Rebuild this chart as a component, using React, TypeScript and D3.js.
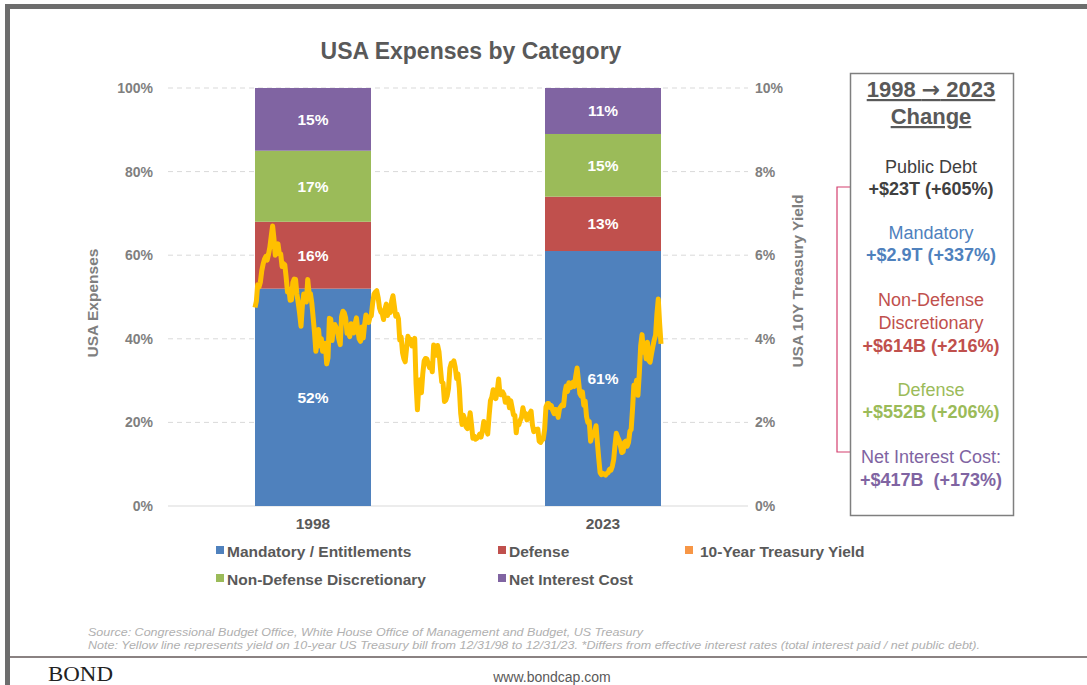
import React from 'react';
import * as d3 from 'd3';

const years = ['1998', '2023'];
const mandatory = [52, 61];
const defense = [16, 13];
const nonDefense = [17, 15];
const netInterest = [15, 11];
const leftTicks = [0, 20, 40, 60, 80, 100];
const rightTicks = [0, 2, 4, 6, 8, 10];

// month-end 10Y yield, Dec 1998 .. Dec 2023
const yieldMonthly = [
  4.75,
  4.9, 5.29, 5.24, 5.35, 5.62, 5.78, 5.9, 5.97, 5.88, 6.02, 6.19, 6.45,
  6.7, 6.41, 6.0, 6.21, 6.27, 6.03, 6.03, 5.73, 5.8, 5.77, 5.48, 5.12,
  5.19, 4.92, 4.93, 5.35, 5.43, 5.42, 5.07, 4.85, 4.6, 4.3, 4.78, 5.07,
  5.03, 4.88, 5.42, 5.1, 5.08, 4.86, 4.51, 4.14, 3.7, 3.93, 4.22, 3.83,
  4.0, 3.7, 3.83, 3.89, 3.4, 3.54, 4.49, 4.47, 3.96, 4.33, 4.34, 4.27,
  4.16, 3.99, 3.86, 4.53, 4.66, 4.62, 4.5, 4.13, 4.14, 4.05, 4.36, 4.24,
  4.14, 4.36, 4.5, 4.21, 4.0, 3.94, 4.28, 4.02, 4.34, 4.57, 4.49, 4.39,
  4.53, 4.55, 4.86, 5.07, 5.12, 5.15, 4.99, 4.74, 4.64, 4.61, 4.46, 4.71,
  4.83, 4.56, 4.65, 4.63, 4.9, 5.03, 4.78, 4.54, 4.59, 4.48, 3.97, 4.04,
  3.67, 3.53, 3.45, 3.77, 4.06, 3.99, 3.99, 3.83, 3.85, 4.01, 2.93, 2.3,
  2.87, 3.02, 2.71, 3.16, 3.47, 3.53, 3.52, 3.4, 3.31, 3.41, 3.21, 3.85,
  3.63, 3.61, 3.84, 3.69, 3.31, 2.97, 2.94, 2.5, 2.53, 2.63, 2.81, 3.3,
  3.42, 3.42, 3.47, 3.32, 3.05, 3.16, 2.82, 2.22, 1.95, 2.17, 2.08, 1.89,
  1.85, 1.98, 2.23, 1.95, 1.62, 1.67, 1.6, 1.62, 1.65, 1.72, 1.65, 1.78,
  2.02, 1.89, 1.87, 1.72, 2.16, 2.52, 2.6, 2.78, 2.64, 2.57, 2.75, 3.04,
  2.67, 2.66, 2.73, 2.67, 2.48, 2.53, 2.58, 2.35, 2.52, 2.35, 2.18, 2.17,
  1.75, 2.0, 1.94, 2.05, 2.12, 2.35, 2.2, 2.21, 2.06, 2.16, 2.21, 2.27,
  1.94, 1.78, 1.8, 1.83, 1.84, 1.55, 1.52, 1.58, 1.6, 1.84, 2.37, 2.45,
  2.45, 2.36, 2.4, 2.29, 2.21, 2.31, 2.3, 2.12, 2.33, 2.38, 2.42, 2.4,
  2.72, 2.87, 2.74, 2.95, 2.83, 2.85, 2.96, 2.86, 3.1, 3.3, 3.01, 2.69,
  2.63, 2.73, 2.41, 2.51, 2.14, 2.0, 2.02, 1.55, 1.68, 1.69, 1.78, 1.92,
  1.51, 1.15, 0.8, 0.75, 0.78, 0.76, 0.74, 0.78, 0.8, 0.88, 0.86, 0.95,
  1.11, 1.44, 1.74, 1.65, 1.58, 1.45, 1.28, 1.3, 1.52, 1.55, 1.43, 1.52,
  1.79, 1.83, 2.32, 2.89, 2.85, 3.01, 2.65, 3.19, 3.83, 4.1, 3.68, 3.88,
  3.52, 3.92, 3.48, 3.44, 3.64, 3.81, 3.97, 4.09, 4.59, 4.95, 4.37, 3.88,
];

const seriesNames = ['Mandatory / Entitlements', 'Defense', 'Non-Defense Discretionary', 'Net Interest Cost'];
const seriesValues = [mandatory, defense, nonDefense, netInterest];
const seriesColors = ['#4f81bd', '#c0504d', '#9bbb59', '#8064a2'];

const FONT = '"Liberation Sans", Arial, sans-serif';
const NARROW = '"Liberation Sans Narrow", "Liberation Sans", Arial, sans-serif';

export default function App() {
  const W = 1087, H = 685;
  const x = d3.scaleBand().domain(years).range([168, 748]).paddingInner(0.6).paddingOuter(0.3);
  const yL = d3.scaleLinear().domain([0, 100]).range([506, 88]);
  const yR = d3.scaleLinear().domain([0, 10]).range([506, 88]);
  const x0 = x(years[0])!;
  const x1 = x(years[1])! + x.bandwidth();
  const xT = d3.scaleTime().domain([new Date(1998, 11, 31), new Date(2023, 11, 31)]).range([x0, x1]);
  const yieldData = yieldMonthly.map((v, i) => ({ d: new Date(1999, i, 0), v }));
  const line = d3.line<{ d: Date; v: number }>().x(p => xT(p.d)).y(p => yR(p.v)).curve(d3.curveLinear);

  const stackRows = years.map((yr, i) => {
    const o: any = { year: yr };
    seriesNames.forEach((n, k) => (o[n] = seriesValues[k][i]));
    return o;
  });
  const stacked = d3.stack().keys(seriesNames)(stackRows);

  const gray = '#7f7f7f';

  const legendItems = [
    { name: 'Mandatory / Entitlements', color: '#4f81bd', x: 216, y: 551, gap: 11 },
    { name: 'Defense', color: '#c0504d', x: 498, y: 551, gap: 11 },
    { name: '10-Year Treasury Yield', color: '#f79646', x: 685, y: 551, gap: 15 },
    { name: 'Non-Defense Discretionary', color: '#9bbb59', x: 216, y: 579, gap: 11 },
    { name: 'Net Interest Cost', color: '#8064a2', x: 498, y: 579, gap: 11 },
  ];

  const boxCx = 931;
  const boxLines = [
    { t: 'Public Debt', y: 173, c: '#404040', b: false },
    { t: '+$23T (+605%)', y: 195, c: '#404040', b: true },
    { t: 'Mandatory', y: 239, c: '#4f81bd', b: false },
    { t: '+$2.9T (+337%)', y: 261, c: '#4f81bd', b: true },
    { t: 'Non-Defense', y: 306, c: '#c0504d', b: false },
    { t: 'Discretionary', y: 329, c: '#c0504d', b: false },
    { t: '+$614B (+216%)', y: 352, c: '#c0504d', b: true },
    { t: 'Defense', y: 396, c: '#9bbb59', b: false },
    { t: '+$552B (+206%)', y: 418, c: '#9bbb59', b: true },
    { t: 'Net Interest Cost:', y: 463, c: '#8064a2', b: false },
    { t: '+$417B  (+173%)', y: 486, c: '#8064a2', b: true },
  ];

  return (
    <svg width={W} height={H} style={{ position: 'absolute', left: 0, top: 0, background: '#fff' }}>
      {/* frame */}
      <rect x={5} y={4} width={W - 5} height={5} fill="#6d6d6d" />
      <rect x={5} y={4} width={5} height={H - 4} fill="#6d6d6d" />
      <line x1={10} x2={W} y1={657} y2={657} stroke="#8a8282" strokeWidth={2} />

      {/* title */}
      <text x={471} y={59} textAnchor="middle" fontFamily={FONT} fontWeight="bold" fontSize={23} fill="#595959">
        USA Expenses by Category
      </text>

      {/* gridlines */}
      {leftTicks.map(t => (
        t === 0 ? (
          <line key={t} x1={168} x2={748} y1={yL(t)} y2={yL(t)} stroke="#d9d9d9" strokeWidth={1} />
        ) : (
          <line key={t} x1={168} x2={748} y1={yL(t)} y2={yL(t)} stroke="#d9d9d9" strokeWidth={1} strokeDasharray="5,4" />
        )
      ))}

      {/* bars */}
      {stacked.map((s, k) => (
        <g key={s.key}>
          {s.map((seg, i) => (
            <rect key={i} x={x(years[i])} y={yL(seg[1])} width={x.bandwidth()} height={yL(seg[0]) - yL(seg[1])} fill={seriesColors[k]} />
          ))}
        </g>
      ))}

      {/* yield line */}
      <path d={line(yieldData) || ''} fill="none" stroke="#ffc000" strokeWidth={5} strokeLinejoin="round" />

      {/* bar labels */}
      {stacked.map((s, k) => (
        <g key={'l' + s.key}>
          {s.map((seg, i) => (
            <text key={i} x={x(years[i])! + x.bandwidth() / 2} y={(yL(seg[0]) + yL(seg[1])) / 2 + 5.5}
              textAnchor="middle" fontFamily={FONT} fontWeight="bold" fontSize={15.5} fill="#ffffff">
              {seg[1] - seg[0]}%
            </text>
          ))}
        </g>
      ))}

      {/* left axis */}
      {leftTicks.map(t => (
        <text key={t} x={153} y={yL(t) + 5} textAnchor="end" fontFamily={FONT} fontWeight="bold" fontSize={14} fill={gray}>
          {t}%
        </text>
      ))}
      <text transform={`translate(98,303) rotate(-90)`} textAnchor="middle" fontFamily={FONT} fontWeight="bold" fontSize={15.5} fill={gray}>
        USA Expenses
      </text>

      {/* right axis */}
      {rightTicks.map(t => (
        <text key={t} x={755} y={yR(t) + 5} textAnchor="start" fontFamily={FONT} fontWeight="bold" fontSize={14} fill={gray}>
          {t}%
        </text>
      ))}
      <text transform={`translate(803,281) rotate(-90)`} textAnchor="middle" fontFamily={FONT} fontWeight="bold" fontSize={15.5} fill={gray}>
        USA 10Y Treasury Yield
      </text>

      {/* category labels */}
      {years.map(yr => (
        <text key={yr} x={x(yr)! + x.bandwidth() / 2} y={529} textAnchor="middle" fontFamily={FONT} fontWeight="bold" fontSize={15.5} fill="#595959">
          {yr}
        </text>
      ))}

      {/* legend */}
      {legendItems.map(l => (
        <g key={l.name}>
          <rect x={l.x} y={l.y - 5} width={8} height={8} fill={l.color} />
          <text x={l.x + l.gap} y={l.y + 5.5} fontFamily={FONT} fontWeight="bold" fontSize={15.5} fill="#595959">
            {l.name}
          </text>
        </g>
      ))}

      {/* bracket */}
      <path d="M850,187 H837 V452 H850" fill="none" stroke="#d43f6f" strokeWidth={1.2} />

      {/* right box */}
      <rect x={850.5} y={73.5} width={163} height={442} fill="none" stroke="#7f7f7f" strokeWidth={1.5} />
      <text x={boxCx} y={97} textAnchor="middle" fontFamily={FONT} fontWeight="bold" fontSize={22} fill="#595959" style={{ textDecoration: 'underline' }}>
        1998 <tspan fontFamily='"DejaVu Sans", sans-serif'>→</tspan> 2023
      </text>
      <text x={boxCx} y={124} textAnchor="middle" fontFamily={FONT} fontWeight="bold" fontSize={22} fill="#595959" style={{ textDecoration: 'underline' }}>
        Change
      </text>
      {boxLines.map((b, i) => (
        <text key={i} x={boxCx} y={b.y} textAnchor="middle" fontFamily={FONT} fontWeight={b.b ? 'bold' : 'normal'} fontSize={18} fill={b.c} style={{ whiteSpace: 'pre' }}>
          {b.t}
        </text>
      ))}

      {/* footer */}
      <text x={88} y={636} fontFamily={NARROW} fontStyle="italic" fontSize={11} fill="#b0b0b0" textLength={555} lengthAdjust="spacingAndGlyphs">
        Source: Congressional Budget Office, White House Office of Management and Budget, US Treasury
      </text>
      <text x={88} y={649} fontFamily={NARROW} fontStyle="italic" fontSize={11} fill="#b0b0b0" textLength={892} lengthAdjust="spacingAndGlyphs">
        Note: Yellow line represents yield on 10-year US Treasury bill from 12/31/98 to 12/31/23. *Differs from effective interest rates (total interest paid / net public debt).
      </text>
      <text x={48} y={681} fontFamily='"Liberation Serif", serif' fontSize={20} fill="#222" textLength={65} lengthAdjust="spacingAndGlyphs">
        BOND
      </text>
      <text x={552} y={682} textAnchor="middle" fontFamily={NARROW} fontSize={14} fill="#595959">
        www.bondcap.com
      </text>
    </svg>
  );
}
